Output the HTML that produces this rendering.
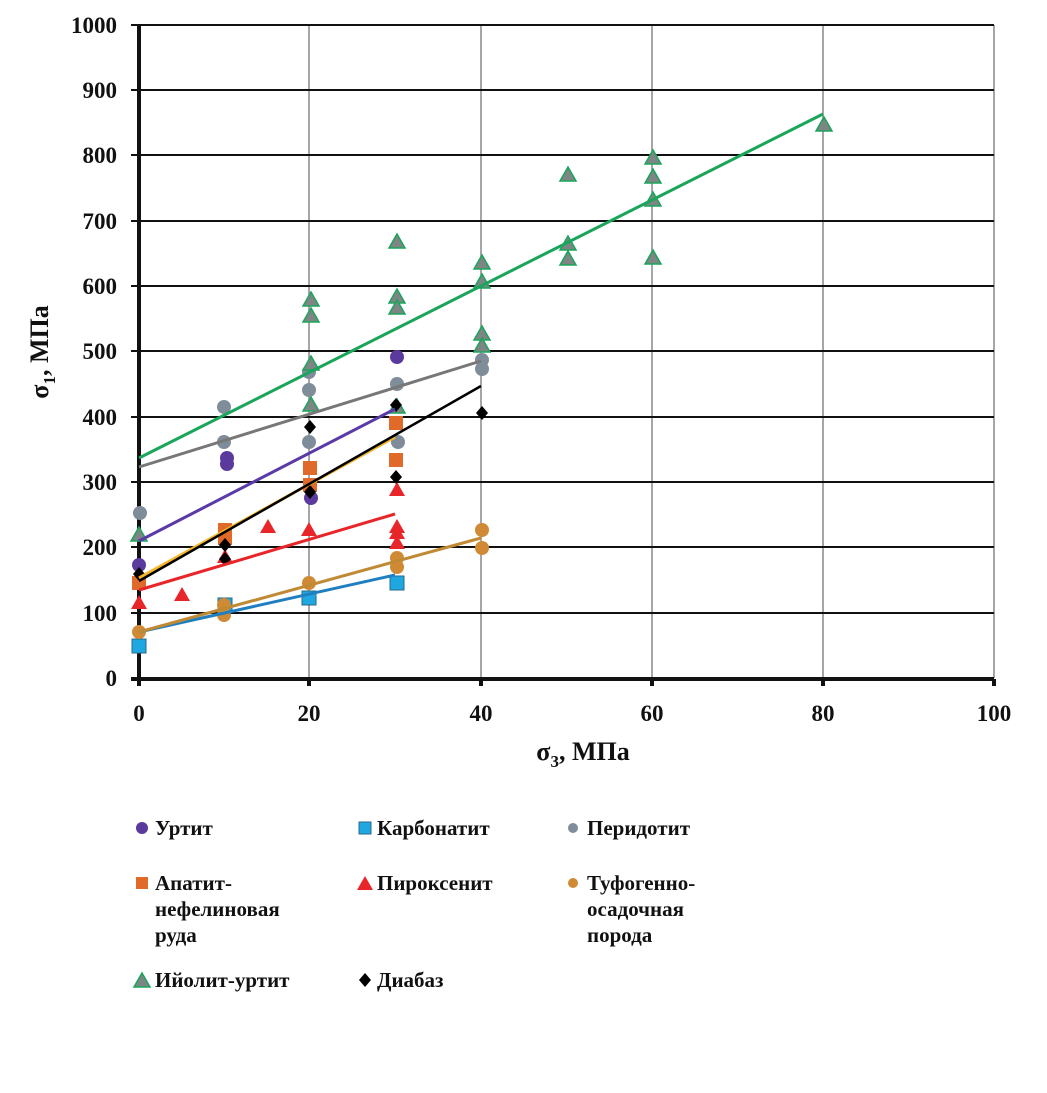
<!DOCTYPE html>
<html><head><meta charset="utf-8"><style>
body{margin:0;background:#fff;}
svg text{font-family:"Liberation Serif",serif;font-weight:bold;fill:#111;}
</style></head><body>
<svg id="s" width="1047" height="1088" xmlns="http://www.w3.org/2000/svg">
<g stroke="#888" stroke-width="1.5">
<line x1="309" y1="25" x2="309" y2="678"/><line x1="481" y1="25" x2="481" y2="678"/>
<line x1="652" y1="25" x2="652" y2="678"/><line x1="823" y1="25" x2="823" y2="678"/>
<line x1="994" y1="25" x2="994" y2="678"/>
</g>
<g stroke="#111" stroke-width="2">
<line x1="131" y1="25" x2="994" y2="25"/><line x1="131" y1="90" x2="994" y2="90"/>
<line x1="131" y1="155" x2="994" y2="155"/><line x1="131" y1="221" x2="994" y2="221"/>
<line x1="131" y1="286" x2="994" y2="286"/><line x1="131" y1="351" x2="994" y2="351"/>
<line x1="131" y1="417" x2="994" y2="417"/><line x1="131" y1="482" x2="994" y2="482"/>
<line x1="131" y1="547" x2="994" y2="547"/><line x1="131" y1="613" x2="994" y2="613"/>
</g>
<g stroke="#111" stroke-width="4">
<line x1="139" y1="24" x2="139" y2="680"/><line x1="131" y1="679" x2="994" y2="679"/>
<line x1="309" y1="679" x2="309" y2="686"/><line x1="481" y1="679" x2="481" y2="686"/>
<line x1="652" y1="679" x2="652" y2="686"/><line x1="823" y1="679" x2="823" y2="686"/>
<line x1="994" y1="679" x2="994" y2="686"/><line x1="139" y1="679" x2="139" y2="686"/>
</g>
<g font-size="23" text-anchor="end">
<text x="117" y="33">1000</text><text x="117" y="98">900</text><text x="117" y="163">800</text>
<text x="117" y="229">700</text><text x="117" y="294">600</text><text x="117" y="359">500</text>
<text x="117" y="425">400</text><text x="117" y="490">300</text><text x="117" y="555">200</text>
<text x="117" y="621">100</text><text x="117" y="686">0</text>
</g>
<g font-size="23" text-anchor="middle">
<text x="139" y="721">0</text><text x="309" y="721">20</text><text x="481" y="721">40</text>
<text x="652" y="721">60</text><text x="823" y="721">80</text><text x="994" y="721">100</text>
</g>
<text x="583" y="760" font-size="26" text-anchor="middle">σ<tspan font-size="17" dy="7">3</tspan><tspan dy="-7">, МПа</tspan></text>
<text transform="translate(48,352) rotate(-90)" font-size="26" text-anchor="middle">σ<tspan font-size="17" dy="7">1</tspan><tspan dy="-7">,  МПа</tspan></text>
<g id="m"></g>
<g stroke-width="3" fill="none">
<line x1="139" y1="632" x2="395" y2="575" stroke="#1f7fc0"/>
<line x1="139" y1="632" x2="481" y2="538" stroke="#c08a35"/>
<line x1="139" y1="590" x2="395" y2="514" stroke="#e8262a"/>
<line x1="139" y1="578" x2="395" y2="437" stroke="#f5b62a"/>
<line x1="139" y1="581" x2="481" y2="386" stroke="#000" stroke-width="2.5"/>
<line x1="139" y1="541" x2="395" y2="409" stroke="#5a3aa8"/>
<line x1="139" y1="467" x2="481" y2="361" stroke="#777"/>
<line x1="139" y1="458" x2="823" y2="114" stroke="#1aa55a"/>
</g>
<g font-size="21">
<text x="155" y="835">Уртит</text><text x="377" y="835">Карбонатит</text><text x="587" y="835">Перидотит</text>
<text x="155" y="890">Апатит-</text><text x="155" y="916">нефелиновая</text><text x="155" y="942">руда</text>
<text x="377" y="890">Пироксенит</text>
<text x="587" y="890">Туфогенно-</text><text x="587" y="916">осадочная</text><text x="587" y="942">порода</text>
<text x="155" y="987">Ийолит-уртит</text><text x="377" y="987">Диабаз</text>
</g>
</svg>
<script>
const g=document.getElementById('m');const NS='http://www.w3.org/2000/svg';
function el(t,a){const e=document.createElementNS(NS,t);for(const k in a)e.setAttribute(k,a[k]);g.appendChild(e);}
function circ(x,y,c,r){el('circle',{cx:x,cy:y,r:r||7,fill:c});}
function sq(x,y,c,s){s=s||7;el('rect',{x:x-s,y:y-s,width:2*s,height:2*s,fill:c,stroke:'#2a6a8a','stroke-width':c=='#1ea7e0'?1:0});}
function tri(x,y,f,s,sw){el('polygon',{points:`${x},${y-8} ${x-8},${y+6} ${x+8},${y+6}`,fill:f,stroke:s||'none','stroke-width':sw||0});}
function dia(x,y){el('polygon',{points:`${x},${y-7} ${x+6},${y} ${x},${y+7} ${x-6},${y}`,fill:'#000'});}
[[139,646],[225,605],[309,598],[397,583]].forEach(p=>sq(p[0],p[1],'#1ea7e0'));
[[139,632],[224,605],[224,615],[309,583],[397,558],[397,567],[482,530],[482,548]].forEach(p=>circ(p[0],p[1],'#d08a35'));
[[139,583],[225,530],[225,538],[310,468],[310,485],[396,423],[396,460]].forEach(p=>sq(p[0],p[1],'#e06a2a'));
[[139,603],[182,595],[225,557],[268,527],[309,530],[397,490],[397,527],[397,533],[397,543]].forEach(p=>tri(p[0],p[1],'#e8262a'));
[[140,513],[224,407],[224,442],[309,372],[309,390],[309,442],[397,384],[398,442],[482,360],[482,369]].forEach(p=>circ(p[0],p[1],'#7f8c99'));
[[139,565],[227,458],[227,464],[311,498],[397,357]].forEach(p=>circ(p[0],p[1],'#5b3a9e'));
[[139,535],[311,300],[311,316],[311,364],[311,405],[397,242],[397,297],[397,308],[397,407],[482,263],[482,282],[482,334],[482,346],[568,175],[568,244],[568,259],[653,158],[653,177],[653,200],[653,258],[824,125]].forEach(p=>tri(p[0],p[1],'#7d8585','#1aa55a',1.5));
[[139,574],[225,545],[225,559],[310,427],[310,492],[396,405],[396,477],[482,413]].forEach(p=>dia(p[0],p[1]));
circ(142,828,'#5b3a9e',6);
sq(365,828,'#1ea7e0',6);circ(573,828,'#7f8c99',5);
sq(142,883,'#e06a2a',6);tri(365,884,'#e8262a');circ(573,883,'#d08a35',5);
tri(142,981,'#7d8585','#1aa55a',1.5);dia(365,980);
</script>
</body></html>
